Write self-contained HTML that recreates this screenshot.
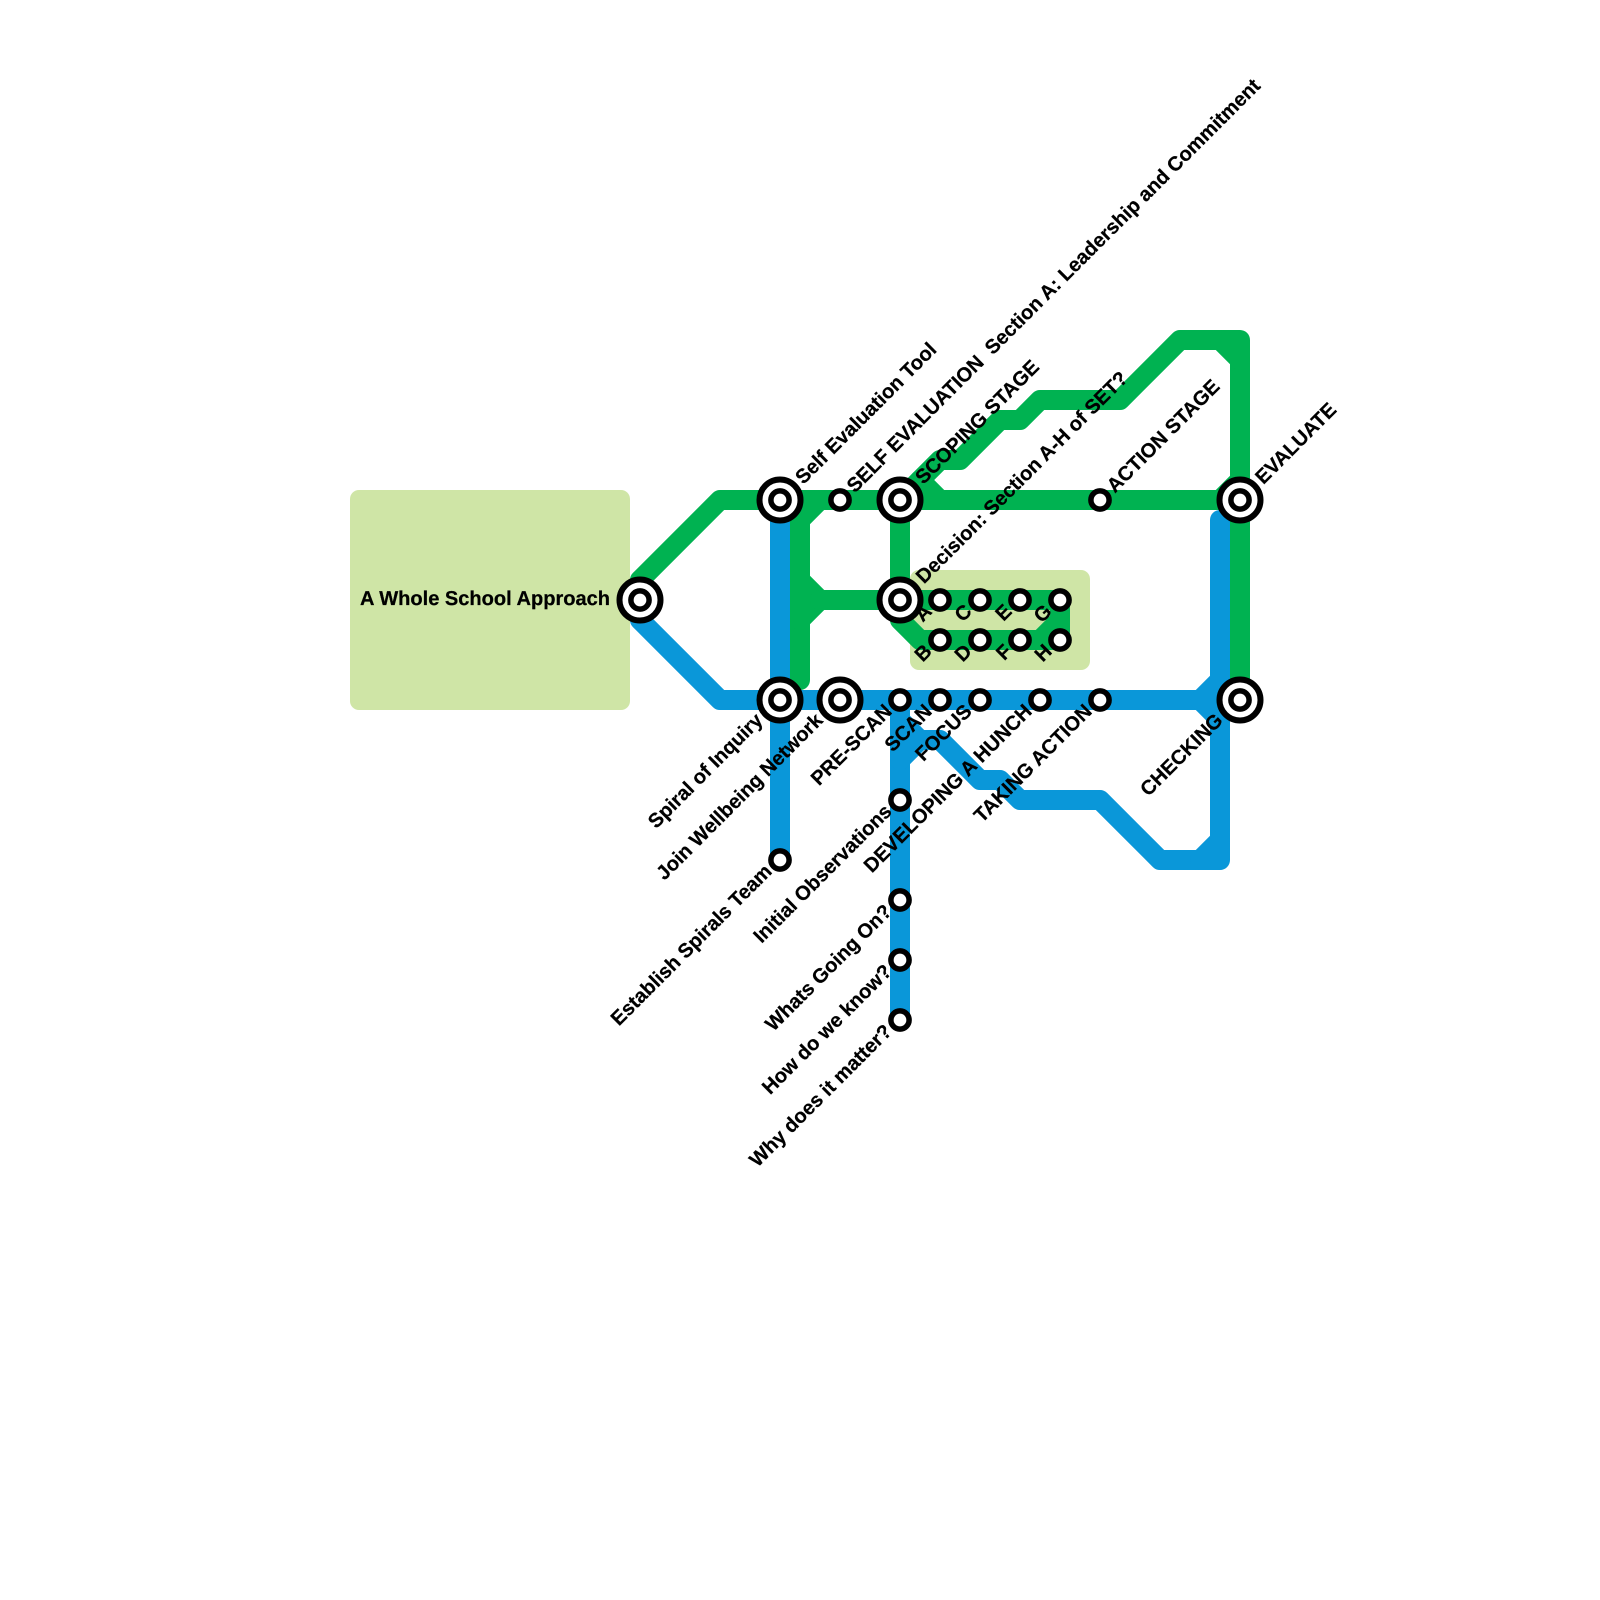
<!DOCTYPE html>
<html>
<head>
<meta charset="utf-8">
<style>
html,body{margin:0;padding:0;background:#fff}
svg{display:block}
text{font-family:"Liberation Sans",Arial,sans-serif;font-weight:bold;font-size:20.05px;fill:#000;stroke:#000;stroke-width:.25;white-space:pre;text-rendering:geometricPrecision}
.l{fill:none;stroke-width:20;stroke-linecap:round;stroke-linejoin:round}
.g{stroke:#00b251}
.b{stroke:#0a97d9}
.s{fill:#fff;stroke:#000;stroke-width:5.5}
.o{fill:#fff;stroke:#000;stroke-width:6}
.ur{text-anchor:start;dominant-baseline:central}
.ll{text-anchor:end;dominant-baseline:central}
</style>
</head>
<body>
<svg width="1600" height="1600" viewBox="0 0 1600 1600" xmlns="http://www.w3.org/2000/svg">
<rect width="1600" height="1600" fill="#fff"/>
<rect x="350" y="490" width="280" height="220" rx="9" fill="#cfe5a6"/>
<rect x="910" y="570" width="180" height="100" rx="9" fill="#cfe5a6"/>

<path class="l b" d="M640 600V620L720 700H1240"/>
<path class="l b" d="M780 500V860"/>
<path class="l b" d="M900 700V1020"/>
<path class="l b" d="M1220 520V680L1200 700L1220 720V860H1160L1100 800H1020L1000 780H980L940 740H920L900 760"/>
<path class="l b" d="M900 720L920 740"/>
<path class="l b" d="M1220 840L1200 860"/>

<path class="l g" d="M640 600V580L720 500H1240"/>
<path class="l g" d="M820 500L800 520V680"/>
<path class="l g" d="M800 580L820 600L800 620"/>
<path class="l g" d="M820 600H900V500"/>
<path class="l g" d="M900 600H1060V620L1040 640H920L900 620V600"/>
<path class="l g" d="M1060 620V640H1040"/>
<path class="l g" d="M900 500L940 460H960L1000 420H1020L1040 400H1120L1180 340H1240V700"/>
<path class="l g" d="M920 480L940 500"/>
<path class="l g" d="M1220 340L1240 360"/>
<path class="l g" d="M1220 500L1240 480"/>

<g>
<circle class="o" cx="640" cy="600" r="20.5"/><circle class="s" cx="640" cy="600" r="9.1"/>
<circle class="o" cx="780" cy="500" r="20.5"/><circle class="s" cx="780" cy="500" r="9.1"/>
<circle class="o" cx="780" cy="700" r="20.5"/><circle class="s" cx="780" cy="700" r="9.1"/>
<circle class="o" cx="840" cy="700" r="20.5"/><circle class="s" cx="840" cy="700" r="9.1"/>
<circle class="o" cx="900" cy="500" r="20.5"/><circle class="s" cx="900" cy="500" r="9.1"/>
<circle class="o" cx="900" cy="600" r="20.5"/><circle class="s" cx="900" cy="600" r="9.1"/>
<circle class="o" cx="1240" cy="500" r="20.5"/><circle class="s" cx="1240" cy="500" r="9.1"/>
<circle class="o" cx="1240" cy="700" r="20.5"/><circle class="s" cx="1240" cy="700" r="9.1"/>

<circle class="s" cx="840" cy="500" r="9.1"/>
<circle class="s" cx="1100" cy="500" r="9.1"/>
<circle class="s" cx="940" cy="600" r="9.1"/>
<circle class="s" cx="980" cy="600" r="9.1"/>
<circle class="s" cx="1020" cy="600" r="9.1"/>
<circle class="s" cx="1060" cy="600" r="9.1"/>
<circle class="s" cx="940" cy="640" r="9.1"/>
<circle class="s" cx="980" cy="640" r="9.1"/>
<circle class="s" cx="1020" cy="640" r="9.1"/>
<circle class="s" cx="1060" cy="640" r="9.1"/>
<circle class="s" cx="900" cy="700" r="9.1"/>
<circle class="s" cx="940" cy="700" r="9.1"/>
<circle class="s" cx="980" cy="700" r="9.1"/>
<circle class="s" cx="1040" cy="700" r="9.1"/>
<circle class="s" cx="1100" cy="700" r="9.1"/>
<circle class="s" cx="780" cy="860" r="9.1"/>
<circle class="s" cx="900" cy="800" r="9.1"/>
<circle class="s" cx="900" cy="900" r="9.1"/>
<circle class="s" cx="900" cy="960" r="9.1"/>
<circle class="s" cx="900" cy="1020" r="9.1"/>
</g>

<text x="610" y="599" class="ll">A Whole School Approach</text>

<text class="ur" transform="translate(780 500) rotate(-45)" x="27">Self Evaluation Tool</text>
<text class="ur" transform="translate(840 500) rotate(-45)" x="15">SELF EVALUATION  Section A: Leadership and Commitment</text>
<text class="ur" transform="translate(900 500) rotate(-45)" x="27">SCOPING STAGE</text>
<text class="ur" transform="translate(900 600) rotate(-45)" x="28">Decision: Section A-H of SET?</text>
<text class="ur" transform="translate(1100 500) rotate(-45)" x="15">ACTION STAGE</text>
<text class="ur" transform="translate(1240 500) rotate(-45)" x="27">EVALUATE</text>

<g transform="translate(-0.5 -2.5)">
<text class="ll" transform="translate(780 700) rotate(-45)" x="-28">Spiral of Inquiry</text>
<text class="ll" transform="translate(840 700) rotate(-45)" x="-28">Join Wellbeing Network</text>
<text class="ll" transform="translate(1240 700) rotate(-45)" x="-28">CHECKING</text>
</g>
<g transform="translate(0 -3)">
<text class="ll" transform="translate(780 860) rotate(-45)" x="-16">Establish Spirals Team</text>
<text class="ll" transform="translate(900 700) rotate(-45)" x="-16">PRE-SCAN</text>
<text class="ll" transform="translate(940 700) rotate(-45)" x="-16">SCAN</text>
<text class="ll" transform="translate(980 700) rotate(-45)" x="-16">FOCUS</text>
<text class="ll" transform="translate(1040 700) rotate(-45)" x="-16">DEVELOPING A HUNCH</text>
<text class="ll" transform="translate(1100 700) rotate(-45)" x="-16">TAKING ACTION</text>
<text class="ll" transform="translate(900 800) rotate(-45)" x="-16">Initial Observations</text>
<text class="ll" transform="translate(900 900) rotate(-45)" x="-16">Whats Going On?</text>
<text class="ll" transform="translate(900 960) rotate(-45)" x="-16">How do we know?</text>
<text class="ll" transform="translate(900 1020) rotate(-45)" x="-16">Why does it matter?</text>

<text class="ll" transform="translate(940 600) rotate(-45)" x="-16">A</text>
<text class="ll" transform="translate(980 600) rotate(-45)" x="-16">C</text>
<text class="ll" transform="translate(1020 600) rotate(-45)" x="-16">E</text>
<text class="ll" transform="translate(1060 600) rotate(-45)" x="-16">G</text>
<text class="ll" transform="translate(940 640) rotate(-45)" x="-16">B</text>
<text class="ll" transform="translate(980 640) rotate(-45)" x="-16">D</text>
<text class="ll" transform="translate(1020 640) rotate(-45)" x="-16">F</text>
<text class="ll" transform="translate(1060 640) rotate(-45)" x="-16">H</text>
</g>
</svg>
</body>
</html>
